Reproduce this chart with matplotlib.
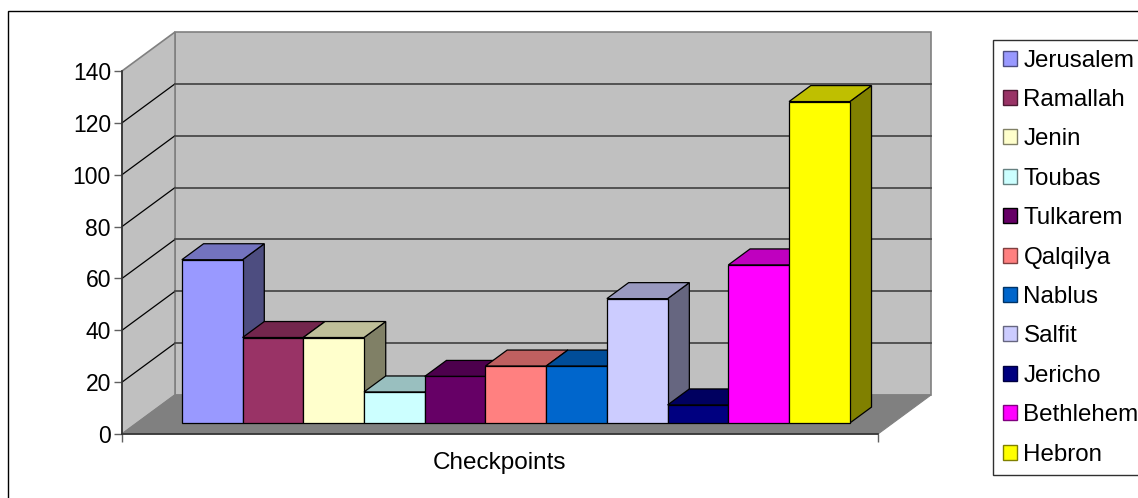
import matplotlib
matplotlib.use('Agg')
import matplotlib.pyplot as plt
from matplotlib.patches import Polygon, Patch, Rectangle

W, H = 1138, 498

checkpoints = ['Jerusalem', 'Ramallah', 'Jenin', 'Toubas', 'Tulkarem', 'Qalqilya',
               'Nablus', 'Salfit', 'Jericho', 'Bethlehem', 'Hebron']
counts = [63, 33, 33, 12, 18, 22, 22, 48, 7, 61, 124]
colors = ['#9999FF', '#993366', '#FFFFCC', '#CCFFFF', '#660066', '#FF8080',
          '#0066CC', '#CCCCFF', '#000080', '#FF00FF', '#FFFF00']
y_ticks = [0, 20, 40, 60, 80, 100, 120, 140]

plt.rcParams['font.family'] = ['Liberation Sans', 'DejaVu Sans']
plt.rcParams['font.size'] = 16

# pixel box of the front plane of the fake 3D box
def px_axes(fig, left, top, right, bottom):
    return fig.add_axes([left / W, 1 - bottom / H, (right - left) / W, (bottom - top) / H])

fig = plt.figure(figsize=(W / 100, H / 100), dpi=100)
fig.patch.set_facecolor('white')
fig.add_artist(Rectangle((8 / W, -0.01), 1.1, 1 - 11 / H + 0.01, transform=fig.transFigure,
                         fill=False, edgecolor='black', linewidth=1))

ax = px_axes(fig, 122, 71, 878, 434)
ax.patch.set_visible(False)
gap = 0.725
ax.set_xlim(-gap, len(counts) + gap)
ax.set_ylim(0, 140)

# depth direction of the box, in data units per unit of depth
unit_x = 756 / (len(counts) + 2 * gap)
depth_x = 53 / unit_x
depth_y = 39 / (363 / 140)

def pt(x, y, d=0.0):
    return (x + d * depth_x, y + d * depth_y)

def face(points, color, edge='black', lw=0.9, z=1):
    ax.add_patch(Polygon(points, closed=True, facecolor=color, edgecolor=edge, linewidth=lw,
                         clip_on=False, zorder=z, joinstyle='miter'))

def shade(color, k):
    rgb = matplotlib.colors.to_rgb(color)
    return tuple(c * k for c in rgb)

x0, x1 = ax.get_xlim()

# walls and floor
face([pt(x0, 0, 1), pt(x1, 0, 1), pt(x1, 140, 1), pt(x0, 140, 1)], '#C0C0C0', '#808080', 1.2)
face([pt(x0, 0), pt(x0, 0, 1), pt(x0, 140, 1), pt(x0, 140)], '#C0C0C0', '#808080', 1.2)
face([pt(x0, 0), pt(x1, 0), pt(x1, 0, 1), pt(x0, 0, 1)], '#808080', '#808080', 0.8)

# gridlines on the side wall and the back wall
for v in y_ticks[1:-1]:
    ax.plot(*zip(pt(x0, v), pt(x0, v, 1)), color='black', linewidth=0.9, clip_on=False, zorder=1.5)
    ax.plot(*zip(pt(x0, v, 1), pt(x1, v, 1)), color='#4a4a4a', linewidth=1.3, clip_on=False, zorder=1.5)

# bars, left to right so each one covers the side of the one before
d0, d1 = 0.28, 0.69
nudge = 0.016
for i, (v, c) in enumerate(zip(counts, colors)):
    z = 2 + i * 0.1
    left, right = i + nudge, i + 1 + nudge
    face([pt(right, 0, d0), pt(right, 0, d1), pt(right, v, d1), pt(right, v, d0)], shade(c, 0.5), z=z)
    face([pt(left, v, d0), pt(right, v, d0), pt(right, v, d1), pt(left, v, d1)], shade(c, 0.75), z=z)
    face([pt(left, 0, d0), pt(right, 0, d0), pt(right, v, d0), pt(left, v, d0)], c, z=z)

# axes
for side in ['top', 'right']:
    ax.spines[side].set_visible(False)
for side in ['left', 'bottom']:
    ax.spines[side].set_color('#303030')
    ax.spines[side].set_linewidth(1.2)
    ax.spines[side].set_zorder(5)
ax.set_yticks(y_ticks)
ax.set_xticks([x0, x1])
ax.set_xticklabels([])
ax.tick_params(axis='both', length=6, width=1, color='#606060', pad=2, labelsize=16.5)
ax.set_xlabel('Checkpoints', labelpad=5, fontsize=17.5)

# legend
handles = [Patch(facecolor=c, edgecolor=shade(c, 0.5) if c != '#660066' else 'black', linewidth=1)
           for c in colors]
leg = fig.legend(handles, checkpoints, loc='upper left', bbox_to_anchor=(993 / W, 1 - 40 / H),
                 frameon=True, fancybox=False, edgecolor='#303030', framealpha=1,
                 fontsize=17.4, handlelength=0.58, handleheight=0.58, handletextpad=0.28,
                 labelspacing=0.72, borderpad=0.4, borderaxespad=0)
leg.get_frame().set_linewidth(1)

fig.savefig('out.png', dpi=100)
